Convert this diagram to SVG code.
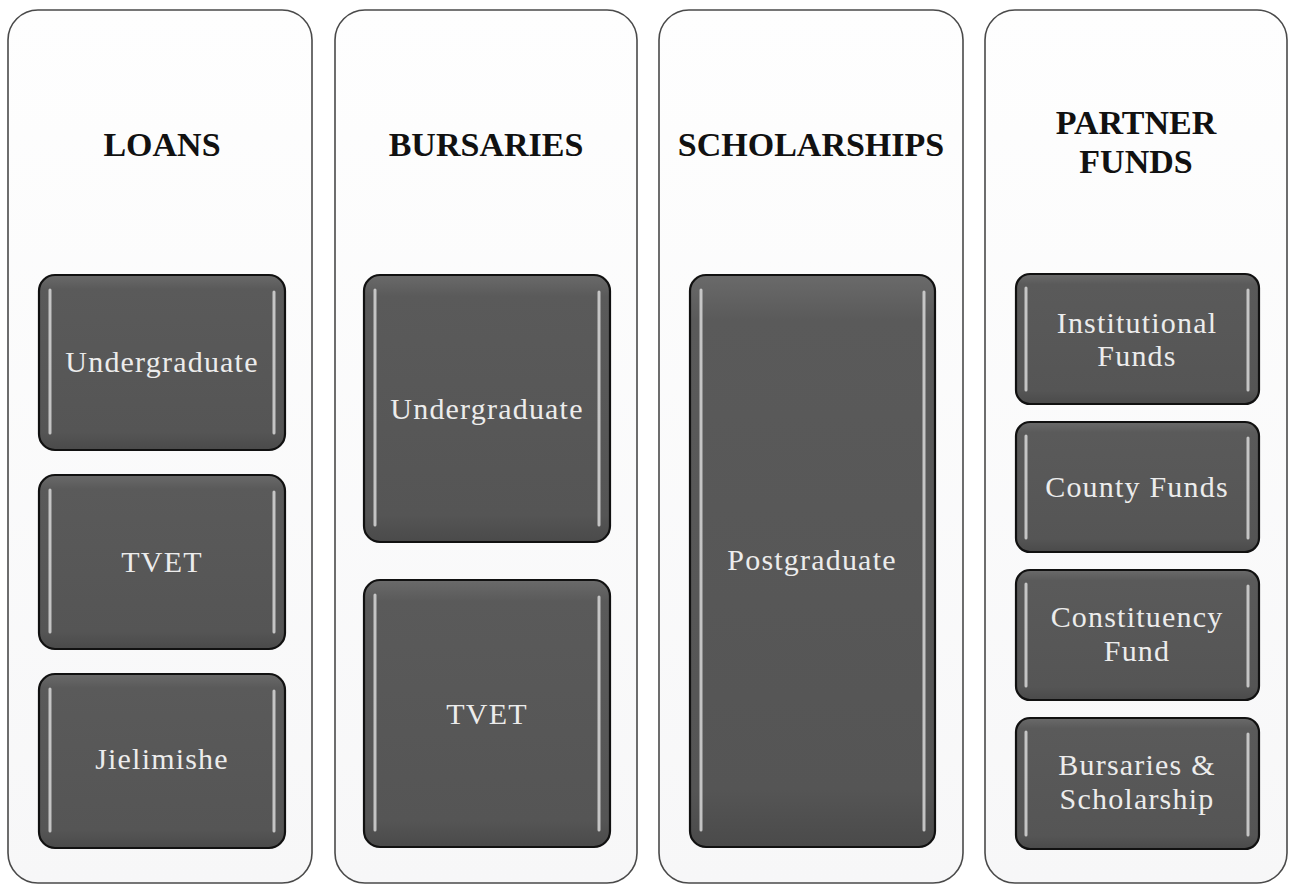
<svg xmlns="http://www.w3.org/2000/svg" width="1289" height="886" viewBox="0 0 1289 886">
<defs>
<linearGradient id="boxFill" x1="0" y1="0" x2="0" y2="1">
<stop offset="0" stop-color="#6a6a6a"/>
<stop offset="0.08" stop-color="#5a5a5a"/>
<stop offset="0.9" stop-color="#555555"/>
<stop offset="1" stop-color="#4a4a4a"/>
</linearGradient>
<linearGradient id="colFill" x1="0" y1="0" x2="0" y2="1">
<stop offset="0" stop-color="#fefefe"/>
<stop offset="1" stop-color="#f7f7f8"/>
</linearGradient>
</defs>
<style>
.col{fill:url(#colFill);stroke:#4a4a4a;stroke-width:1.6}
.box{fill:url(#boxFill);stroke:#111;stroke-width:2.2}
.hl{stroke:#d8d8d8;stroke-width:3;stroke-linecap:round;opacity:0.85}
.head{font-family:"Liberation Serif",serif;font-weight:bold;font-size:34px;fill:#111;text-anchor:middle}
.lbl{font-family:"Liberation Serif",serif;font-size:30px;letter-spacing:1.2px;fill:#ececec;text-anchor:middle}
</style>
<rect width="1289" height="886" fill="#ffffff"/>

<g id="col-loans">
<rect class="col" x="8" y="10" width="304" height="873" rx="30"/>
<text class="head" x="162" y="156">LOANS</text>
</g>
<g id="col-bursaries">
<rect class="col" x="335" y="10" width="302" height="873" rx="30"/>
<text class="head" x="486" y="156">BURSARIES</text>
</g>
<g id="col-scholarships">
<rect class="col" x="659" y="10" width="304" height="873" rx="30"/>
<text class="head" x="811" y="156">SCHOLARSHIPS</text>
</g>
<g id="col-partner">
<rect class="col" x="985" y="10" width="302" height="873" rx="30"/>
<text class="head" x="1136" y="134">PARTNER</text>
<text class="head" x="1136" y="173">FUNDS</text>
</g>

<g id="loans-undergraduate">
<rect class="box" x="39" y="275" width="246" height="175" rx="16"/>
<line class="hl" x1="50" y1="290" x2="50" y2="433"/><line class="hl" x1="274" y1="292" x2="274" y2="433"/>
<text class="lbl" x="162" y="372">Undergraduate</text>
</g>
<g id="loans-tvet">
<rect class="box" x="39" y="475" width="246" height="174" rx="16"/>
<line class="hl" x1="50" y1="490" x2="50" y2="632"/><line class="hl" x1="274" y1="492" x2="274" y2="632"/>
<text class="lbl" x="162" y="572">TVET</text>
</g>
<g id="loans-jielimishe">
<rect class="box" x="39" y="674" width="246" height="174" rx="16"/>
<line class="hl" x1="50" y1="689" x2="50" y2="831"/><line class="hl" x1="274" y1="691" x2="274" y2="831"/>
<text class="lbl" x="162" y="769">Jielimishe</text>
</g>

<g id="bursaries-undergraduate">
<rect class="box" x="364" y="275" width="246" height="267" rx="16"/>
<line class="hl" x1="375" y1="290" x2="375" y2="525"/><line class="hl" x1="599" y1="292" x2="599" y2="525"/>
<text class="lbl" x="487" y="419">Undergraduate</text>
</g>
<g id="bursaries-tvet">
<rect class="box" x="364" y="580" width="246" height="267" rx="16"/>
<line class="hl" x1="375" y1="595" x2="375" y2="830"/><line class="hl" x1="599" y1="597" x2="599" y2="830"/>
<text class="lbl" x="487" y="724">TVET</text>
</g>

<g id="scholarships-postgraduate">
<rect class="box" x="690" y="275" width="245" height="572" rx="16"/>
<line class="hl" x1="701" y1="290" x2="701" y2="830"/><line class="hl" x1="924" y1="292" x2="924" y2="830"/>
<text class="lbl" x="812" y="570">Postgraduate</text>
</g>

<g id="partner-institutional">
<rect class="box" x="1016" y="274" width="243" height="130" rx="14"/>
<line class="hl" x1="1026" y1="288" x2="1026" y2="390"/><line class="hl" x1="1248" y1="290" x2="1248" y2="390"/>
<text class="lbl" x="1137" y="333">Institutional</text>
<text class="lbl" x="1137" y="366">Funds</text>
</g>
<g id="partner-county">
<rect class="box" x="1016" y="422" width="243" height="130" rx="14"/>
<line class="hl" x1="1026" y1="436" x2="1026" y2="538"/><line class="hl" x1="1248" y1="438" x2="1248" y2="538"/>
<text class="lbl" x="1137" y="497">County Funds</text>
</g>
<g id="partner-constituency">
<rect class="box" x="1016" y="570" width="243" height="130" rx="14"/>
<line class="hl" x1="1026" y1="584" x2="1026" y2="686"/><line class="hl" x1="1248" y1="586" x2="1248" y2="686"/>
<text class="lbl" x="1137" y="627">Constituency</text>
<text class="lbl" x="1137" y="661">Fund</text>
</g>
<g id="partner-bursaries">
<rect class="box" x="1016" y="718" width="243" height="131" rx="14"/>
<line class="hl" x1="1026" y1="732" x2="1026" y2="835"/><line class="hl" x1="1248" y1="734" x2="1248" y2="835"/>
<text class="lbl" x="1137" y="775">Bursaries &amp;</text>
<text class="lbl" x="1137" y="809">Scholarship</text>
</g>

<g id="connectors"></g>
</svg>
